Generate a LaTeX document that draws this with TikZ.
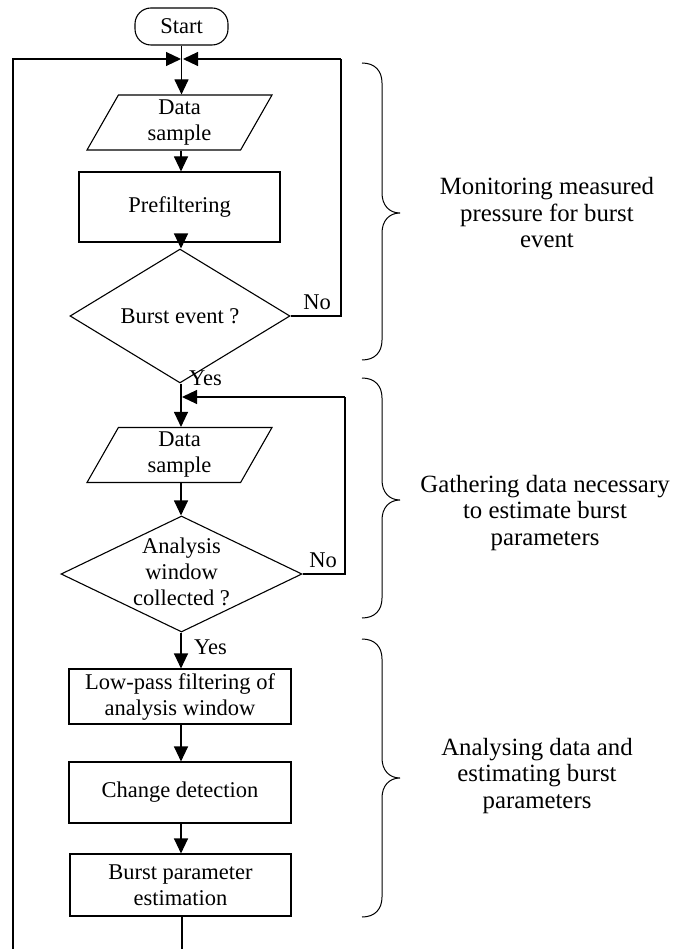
\documentclass[tikz,border=0pt]{standalone}
\usepackage{fontspec}
\setmainfont{Liberation Serif}
\usetikzlibrary{shapes.geometric,arrows.meta}
\begin{document}
\begin{tikzpicture}[x=1pt,y=1pt,
  every node/.style={font=\fontsize{22.5}{26}\selectfont},
  ln/.style={line width=1.1pt},
  arr/.style={ln,-{Triangle[length=15pt,width=14pt]}},
  procbox/.style={draw,ln,rectangle,inner sep=0pt,align=center},
  iobox/.style={draw,ln,trapezium,trapezium left angle=55.4,trapezium right angle=124.6,
     trapezium stretches body,minimum width=185pt,minimum height=55pt,inner sep=0pt,align=center},
  decbox/.style={draw,ln,diamond,inner sep=0pt,align=center},
  lbl/.style={inner sep=0pt,align=center},
  sidetext/.style={inner sep=0pt,align=center,font=\fontsize{24.8}{26.5}\selectfont},
  brc/.style={line width=1pt}]
\useasboundingbox (0,0) rectangle (675,-949);

% nodes
\node[draw,ln,rounded corners=16pt,minimum width=93pt,minimum height=37pt,inner sep=0pt] (start) at (181.5,-26.5) {Start};
\node[iobox] (ds1) at (179.5,-122.5) {Data\\sample};
\node[procbox,minimum width=201pt,minimum height=70pt] (pre) at (179.5,-207) {Prefiltering};
\node[decbox,minimum width=220pt,minimum height=92pt] (d1) at (180,-316) {Burst event ?};
\node[iobox] (ds2) at (179.5,-455) {Data\\sample};
\node[decbox,minimum width=241pt,minimum height=116pt] (d2) at (181.5,-574) {};
\node[lbl] (d2t) at (181.5,-572) {Analysis\\window\\collected ?};
\node[procbox,minimum width=222pt,minimum height=55pt] (lp) at (180,-696.5) {Low-pass filtering of\\analysis window};
\node[procbox,minimum width=222pt,minimum height=61pt] (cd) at (180,-792.5) {Change detection};
\node[procbox,minimum width=221pt,minimum height=62pt] (bp) at (180.5,-885) {Burst parameter\\estimation};

% coordinates
\coordinate (j) at (181,-59);
\coordinate (jr) at (183,-59);
\coordinate (bl) at (13,-949);
\coordinate (r1) at (341,-59);
\coordinate (j2) at (182,-397);
\coordinate (r2) at (345,-397);
\coordinate (bend) at (181,-949);

% connectors
\draw[arr] (start.south) -- (ds1.north -| start.south);
\draw[arr] (bl) |- (j);
\draw[ln] (d1.east) -| (r1);
\draw[arr] (r1) -- (jr);
\draw[arr] (ds1.south -| 181,0) -- (pre.north -| 181,0);
\draw[arr] (pre.south -| 181,0) -- (d1.north -| 181,0);
\draw[arr] (d1.south -| 181,0) -- (ds2.north -| 181,0);
\draw[ln] (d2.east) -| (r2);
\draw[arr] (r2) -- (j2);
\draw[arr] (ds2.south -| 181,0) -- (d2.north -| 181,0);
\draw[arr] (d2.south -| 181,0) -- (lp.north -| 181,0);
\draw[arr] (lp.south -| 181,0) -- (cd.north -| 181,0);
\draw[arr] (cd.south -| 181,0) -- (bp.north -| 181,0);
\draw[ln] (bp.south -| 182,0) -- (bend -| 182,0);

% labels
\node[lbl,anchor=west] (yes1) at (189,-378) {Yes};
\node[lbl,anchor=west] (yes2) at (194,-647) {Yes};
\node[lbl] (no1) at (317,-302) {No};
\node[lbl] (no2) at (323,-560) {No};

% braces
\draw[brc] (362,-63) .. controls (375,-63) and (382,-71) .. (382,-83) -- (382,-193)
  .. controls (382,-205) and (389,-213) .. (400,-213)
  .. controls (389,-213) and (382,-221) .. (382,-233) -- (382,-340)
  .. controls (382,-352) and (375,-360) .. (362,-360);
\draw[brc] (362,-378) .. controls (375,-378) and (382,-386) .. (382,-398) -- (382,-480)
  .. controls (382,-492) and (389,-500) .. (400,-500)
  .. controls (389,-500) and (382,-508) .. (382,-520) -- (382,-598)
  .. controls (382,-610) and (375,-618) .. (362,-618);
\draw[brc] (362,-639) .. controls (375,-639) and (382,-647) .. (382,-659) -- (382,-758)
  .. controls (382,-770) and (389,-778) .. (400,-778)
  .. controls (389,-778) and (382,-786) .. (382,-798) -- (382,-897)
  .. controls (382,-909) and (375,-917) .. (362,-917);

\node[sidetext] (t1) at (547,-213) {Monitoring measured\\pressure for burst\\event};
\node[sidetext] (t2) at (545,-513) {Gathering data necessary\\to estimate burst\\parameters};
\node[sidetext] (t3) at (537,-776) {Analysing data and\\estimating burst\\parameters};
\end{tikzpicture}
\end{document}
